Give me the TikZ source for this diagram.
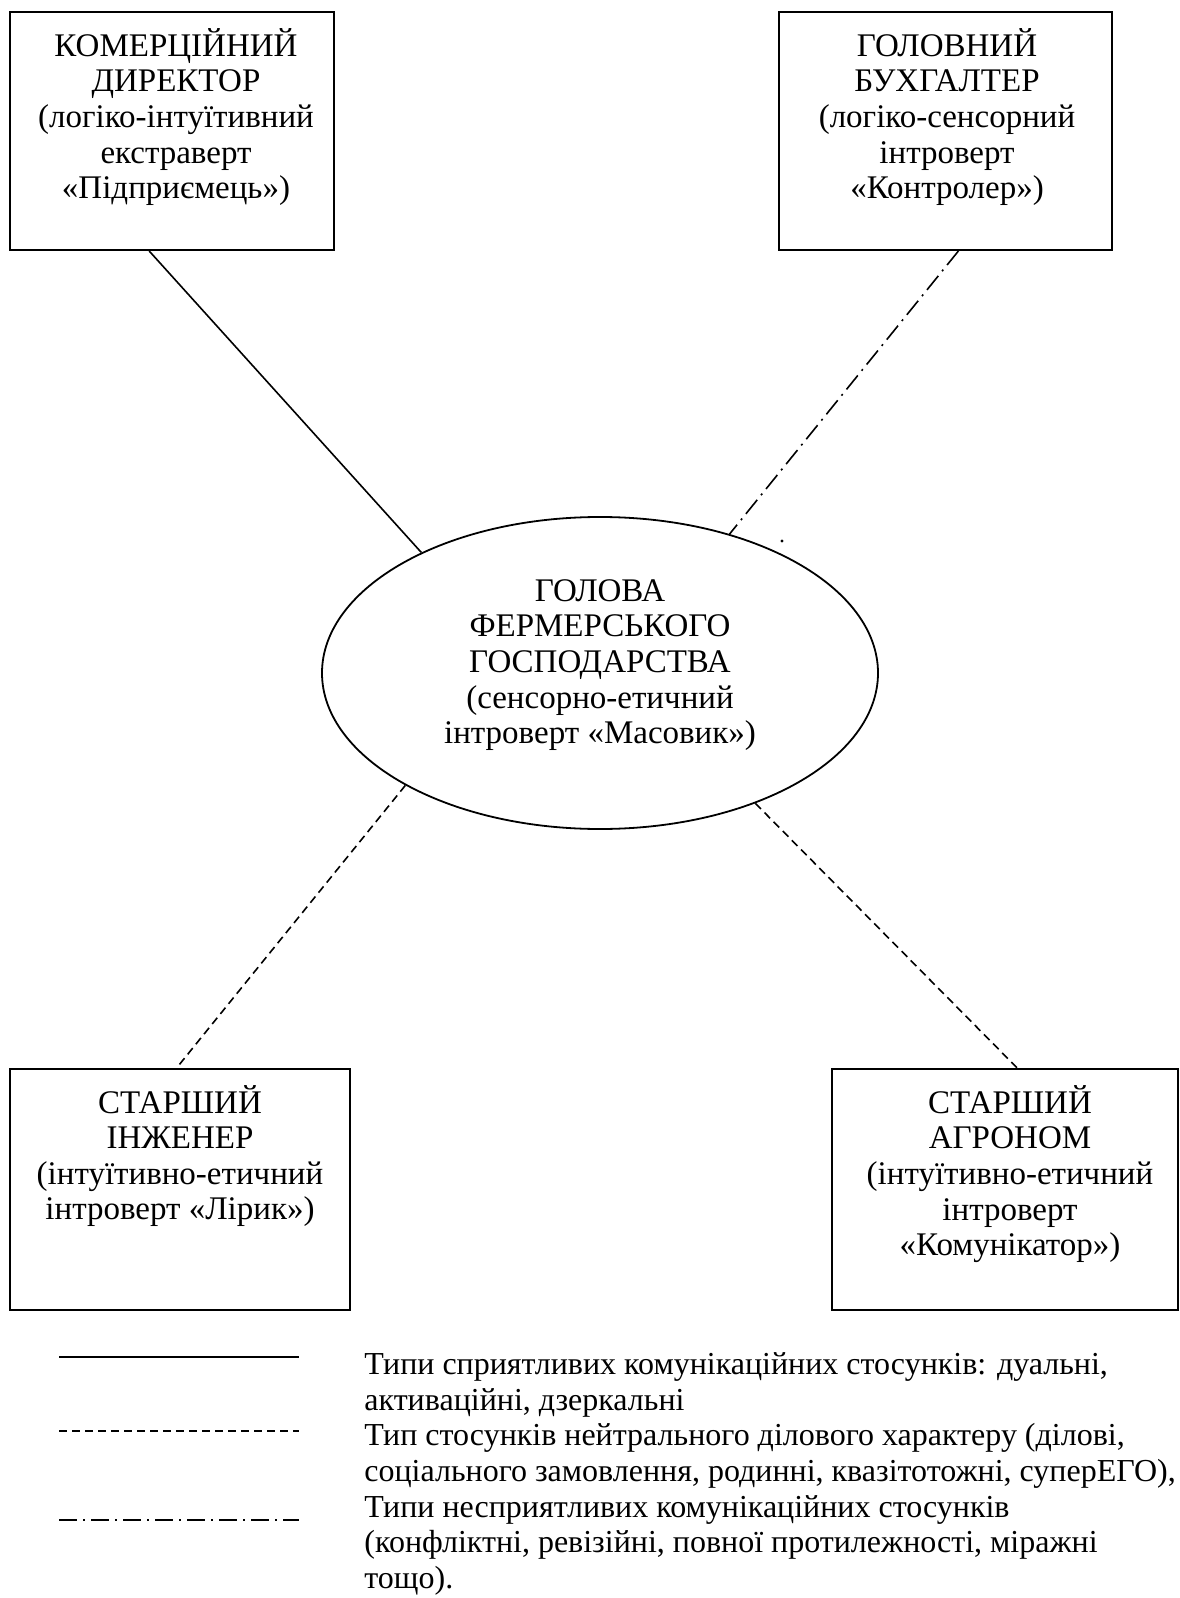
\documentclass[tikz,border=0pt]{standalone}
\usepackage{fontspec}
\setmainfont{Liberation Serif}
\usetikzlibrary{shapes.geometric,calc}

\begin{document}
\begin{tikzpicture}[x=0.5pt,y=-0.5pt,
    every node/.style={font=\fontsize{16.5}{17.8}\selectfont},
    posada/.style={draw,line width=1pt,inner sep=0pt},
    napys/.style={align=center,inner sep=0pt},
    spryiat/.style={line width=0.8pt},
    neitral/.style={line width=0.8pt,dash pattern=on 4pt off 2.5pt},
    nespryiat/.style={line width=0.8pt,dash pattern=on 9pt off 3pt on 1pt off 3pt}]
  \useasboundingbox (0,0) rectangle (1179,1598);
  % posady
  \node[posada,minimum width=162pt,minimum height=119pt] (komdyr) at (172,131) {};
  \node[napys] (komdyrt) at (176,117) {КОМЕРЦІЙНИЙ\\ДИРЕКТОР\\(логіко-інтуїтивний\\екстраверт\\«Підприємець»)};
  \node[posada,minimum width=166.5pt,minimum height=119pt] (buhg) at (945,131) {};
  \node[napys] (buhgt) at (947,117) {ГОЛОВНИЙ\\БУХГАЛТЕР\\(логіко-сенсорний\\інтроверт\\«Контролер»)};
  \node[posada,minimum width=170pt,minimum height=120.5pt] (inzh) at (180,1189.5) {};
  \node[napys] (inzht) at (180,1156) {СТАРШИЙ\\ІНЖЕНЕР\\(інтуїтивно-етичний\\інтроверт «Лірик»)};
  \node[posada,minimum width=173pt,minimum height=120.5pt] (ahron) at (1005,1189.5) {};
  \node[napys] (ahront) at (1010,1174) {СТАРШИЙ\\АГРОНОМ\\(інтуїтивно-етичний\\інтроверт\\«Комунікатор»)};
  \node[ellipse,draw,line width=0.9pt,inner sep=0pt,
        minimum width=278pt,minimum height=156pt] (holova) at (600,673) {};
  \node[napys] (holovat) at (600,665) {ГОЛОВА\\ФЕРМЕРСЬКОГО\\ГОСПОДАРСТВА\\(сенсорно-етичний\\інтроверт «Масовик»)};
  % zviazky
  \draw[spryiat] ($(komdyr.south west)!0.43!(komdyr.south east)$) -- (holova.146);
  \draw[nespryiat] ($(buhg.south west)!0.54!(buhg.south east)$) -- (holova.47);
  \draw[neitral] (holova.210) -- ($(inzh.north west)!0.49!(inzh.north east)$);
  \draw[neitral] (holova.320) -- ($(ahron.north west)!0.535!(ahron.north east)$);
  \fill (782,541) circle (0.8pt);
  % lehenda
  \foreach \Y/\typ in {1357/spryiat,1431/neitral,1520/nespryiat}
    \draw[\typ] (59,\Y) -- (299,\Y);
  \node[anchor=west,align=left,inner sep=0pt,font=\fontsize{16}{17.8}\selectfont] (lehenda) at (364,1474)
    {Типи сприятливих комунікаційних стосунків: дуальні,\\
     активаційні, дзеркальні\\
     Тип стосунків нейтрального ділового характеру (ділові,\\
     соціального замовлення, родинні, квазітотожні, суперЕГО),\\
     Типи несприятливих комунікаційних стосунків\\
     (конфліктні, ревізійні, повної протилежності, міражні\\
     тощо).};
\end{tikzpicture}
\end{document}
